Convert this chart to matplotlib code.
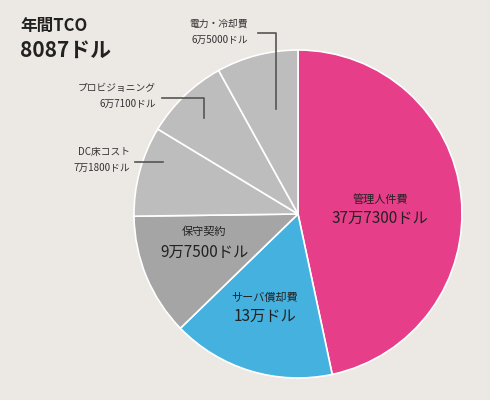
import matplotlib
matplotlib.use("Agg")
import matplotlib.pyplot as plt
from matplotlib.lines import Line2D

plt.rcParams['font.family'] = ['Noto Sans CJK JP', 'DejaVu Sans']

categories = ["管理人件費", "サーバ償却費", "保守契約", "DC床コスト", "プロビジョニング", "電力・冷却費"]
values = [377300, 130000, 97500, 71800, 67100, 65000]
value_labels = ["37万7300ドル", "13万ドル", "9万7500ドル", "7万1800ドル", "6万7100ドル", "6万5000ドル"]
colors = ["#E63E89", "#45B1DF", "#A5A5A5", "#BDBDBD", "#BDBDBD", "#BDBDBD"]

W, H = 490, 400
fig = plt.figure(figsize=(4.9, 4.0), dpi=100, facecolor="#ECE8E3")
cx, cy, r = 298, 214, 164
ax = fig.add_axes([(cx - r) / W, (H - cy - r) / H, 2 * r / W, 2 * r / H])
ax.pie(values, colors=colors, startangle=90, counterclock=False,
       wedgeprops=dict(edgecolor="white", linewidth=1.2))
ax.set_xlim(-1, 1)
ax.set_ylim(-1, 1)
ax.set_aspect("equal")

def px(x, y):
    return x / W, 1 - y / H

fig.text(*px(20, 26), "年間TCO", fontsize=12, fontweight="bold", va="center", ha="left", color="#222")
fig.text(*px(20, 50), "8087ドル", fontsize=15, fontweight="bold", va="center", ha="left", color="#222")

inner = [(0, 380, 200, 218), (1, 265, 298, 316), (2, 204, 232, 252)]
for i, x, y1, y2 in inner:
    fig.text(*px(x, y1), categories[i], fontsize=8, ha="center", va="center", color="#222")
    fig.text(*px(x, y2), value_labels[i], fontsize=11, ha="center", va="center", color="#222")

outer = [(5, 248, 24, 40), (4, 156, 88, 104), (3, 130, 152, 168)]
for i, x, y1, y2 in outer:
    fig.text(*px(x, y1), categories[i], fontsize=7, ha="right", va="center", color="#333")
    fig.text(*px(x, y2), value_labels[i], fontsize=7, ha="right", va="center", color="#333")

lines = [[(258, 33), (276, 33), (276, 109)],
         [(162, 98), (204, 98), (204, 118)],
         [(135, 162), (163, 162)]]
for pts in lines:
    xs = [p[0] / W for p in pts]
    ys = [1 - p[1] / H for p in pts]
    fig.add_artist(Line2D(xs, ys, color="#555", linewidth=1.2, transform=fig.transFigure))

fig.savefig("out.png", dpi=100, facecolor=fig.get_facecolor())
